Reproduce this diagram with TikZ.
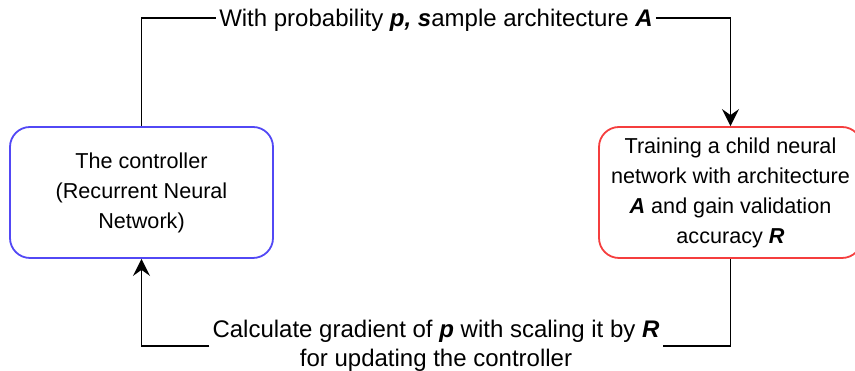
\documentclass[tikz,border=0pt]{standalone}
\usepackage{fontspec}
\setmainfont{Liberation Sans}
\usetikzlibrary{arrows.meta}
\definecolor{ctrlblue}{RGB}{82,72,245}
\definecolor{childred}{RGB}{245,62,62}
\newcommand\mybi[1]{\textbf{\textit{#1}}}
\begin{document}
\begin{tikzpicture}[x=1pt,y=1pt,
  box/.style={rounded corners=20pt, line width=1.8pt, minimum width=263pt, minimum height=131pt,
              align=center, font=\fontsize{21.6}{30}\selectfont, fill=white, inner sep=2pt},
  wire/.style={line width=1.8pt},
  conn/.style={line width=1.8pt, -{Stealth[length=17pt,width=17pt,inset=6pt]}},
  lbl/.style={inner sep=3pt, font=\fontsize{24}{29}\selectfont, align=center}]
\useasboundingbox (0,0) rectangle (855,371);
\clip (0,0) rectangle (855,371);
\node[box, draw=ctrlblue] (ctrl) at (141.5,178.5) {The controller\\(Recurrent Neural\\Network)};
\node[box, draw=childred] (child) at (730.5,178.5) {Training a child neural\\network with architecture\\\mybi{A} and gain validation\\accuracy \mybi{R}};
\node[lbl, text depth=0pt] (toplbl) at (436,353) {With probability \mybi{p, s}ample architecture \mybi{A}};
\node[lbl] (botlbl) at (436,25) {Calculate gradient of \mybi{p} with scaling it by \mybi{R}\\for updating the controller};
\draw[wire] (ctrl.north) |- (toplbl.west);
\draw[conn] (toplbl.east) -| (child.north);
\draw[wire] (child.south) |- (botlbl.east);
\draw[conn] (botlbl.west) -| (ctrl.south);
\end{tikzpicture}
\end{document}
